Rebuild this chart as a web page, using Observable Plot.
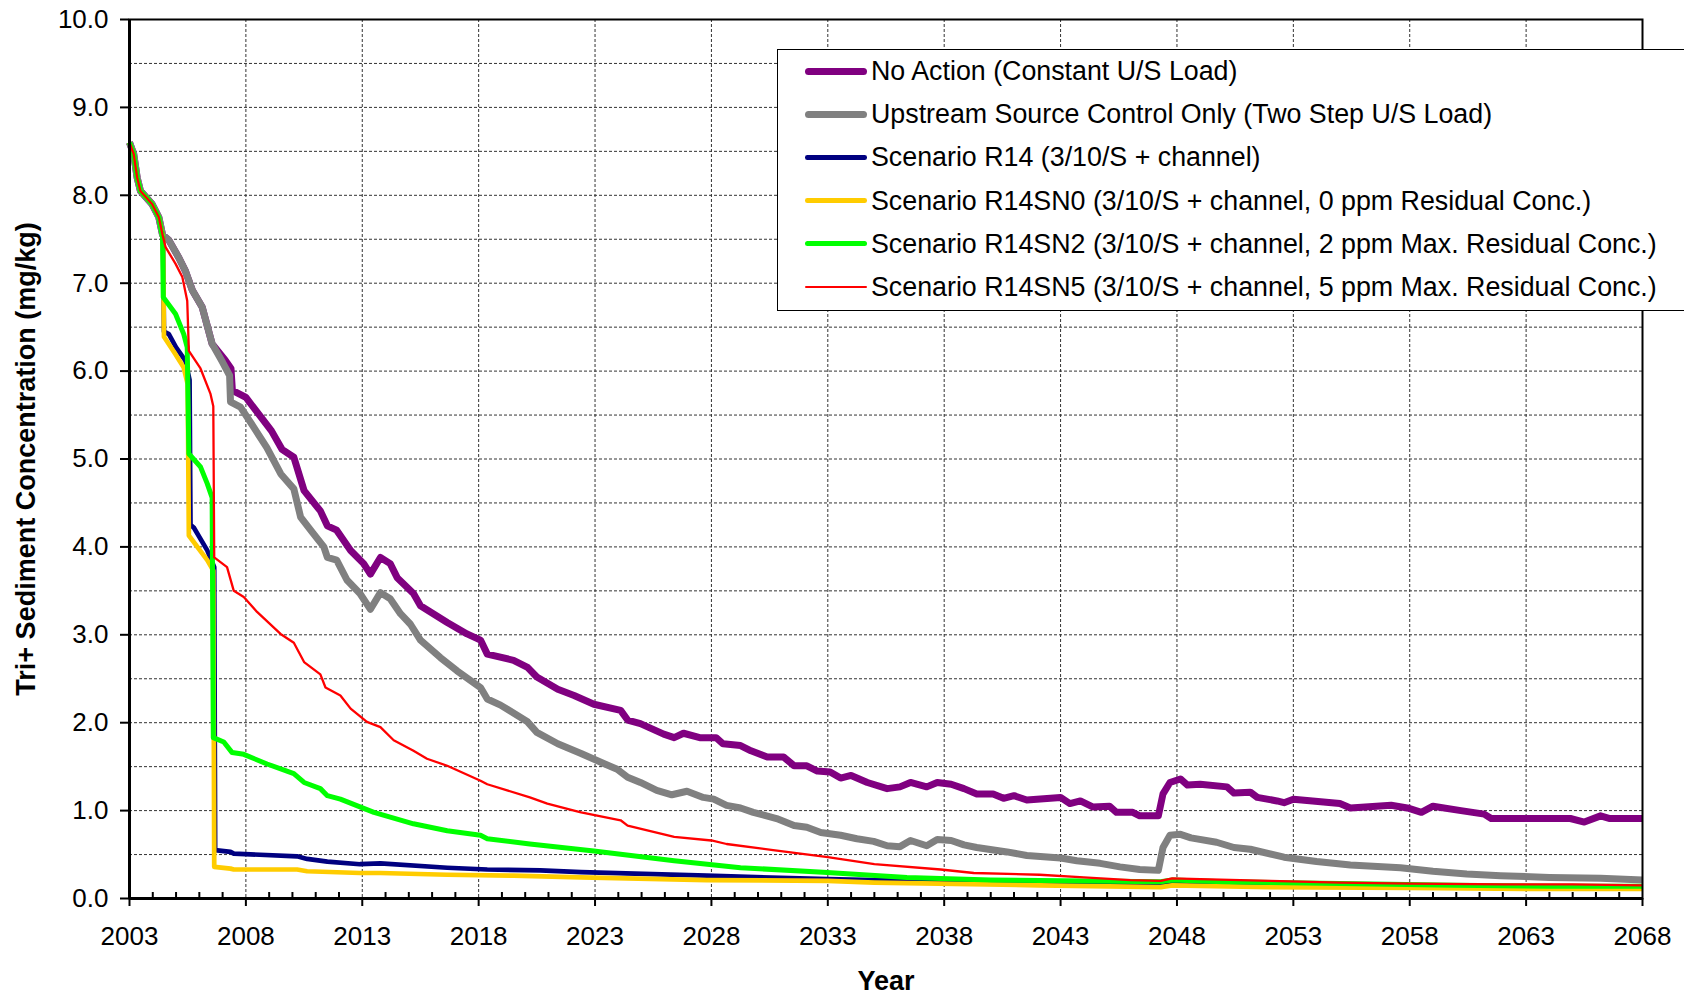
<!DOCTYPE html>
<html><head><meta charset="utf-8">
<script src="https://cdn.jsdelivr.net/npm/d3@7"></script>
<script src="https://cdn.jsdelivr.net/npm/@observablehq/plot@0.6"></script>
<style>
html,body{margin:0;padding:0;background:#fff;overflow:hidden;}
#wrap{position:relative;width:1684px;height:996px;font-family:"Liberation Sans",Arial,sans-serif;}
#legend{position:absolute;left:777px;top:49px;width:908px;height:262px;box-sizing:border-box;border:1.3px solid #000;background:#fff;}
.row{position:absolute;left:0;width:100%;height:40px;font-size:26.8px;color:#000;white-space:nowrap}
.sw{position:absolute;left:27px;width:62px}
.lab{position:absolute;left:93px;top:0;line-height:40px}
</style></head>
<body><div id="wrap"><div id="legend"></div></div>
<script>
// ---- data ----
const seriesNames = [
  "No Action (Constant U/S Load)",
  "Upstream Source Control Only (Two Step U/S Load)",
  "Scenario R14 (3/10/S + channel)",
  "Scenario R14SN0 (3/10/S + channel, 0 ppm Residual Conc.)",
  "Scenario R14SN2 (3/10/S + channel, 2 ppm Max. Residual Conc.)",
  "Scenario R14SN5 (3/10/S + channel, 5 ppm Max. Residual Conc.)"
];
const seriesColors = ["#800080", "#808080", "#000080", "#FFCC00", "#00FF00", "#FF0000"];
const seriesWidths = [7, 7, 4.7, 4.7, 5, 2.3];

const commonStart = [[2003.0,8.60],[2003.18,8.47],[2003.33,8.20],[2003.47,8.05],[2003.97,7.90],[2004.26,7.75],[2004.42,7.55]];

const noAction = [[2004.69,7.49],[2005.12,7.29],[2005.4,7.14],[2005.7,6.92],[2006.12,6.73],[2006.55,6.31],[2007.12,6.12],[2007.36,6.03],[2007.42,5.78],[2008.0,5.70],[2008.55,5.51],[2009.1,5.32],[2009.55,5.11],[2010.06,5.02],[2010.5,4.64],[2011.2,4.41],[2011.5,4.24],[2011.9,4.19],[2012.5,3.96],[2013.06,3.81],[2013.35,3.69],[2013.78,3.88],[2014.2,3.81],[2014.5,3.65],[2015.2,3.47],[2015.5,3.33],[2016.65,3.14],[2017.5,3.01],[2018.08,2.94],[2018.37,2.78],[2019.5,2.71],[2020.1,2.63],[2020.5,2.52],[2021.4,2.38],[2022.1,2.31],[2022.95,2.21],[2024.1,2.14],[2024.4,2.03],[2024.95,1.99],[2025.95,1.87],[2026.4,1.83],[2026.8,1.88],[2027.5,1.83],[2028.2,1.83],[2028.5,1.76],[2029.25,1.74],[2029.7,1.68],[2030.4,1.61],[2031.1,1.61],[2031.55,1.51],[2032.1,1.51],[2032.55,1.45],[2033.1,1.44],[2033.55,1.37],[2034.0,1.40],[2034.7,1.32],[2035.55,1.25],[2036.1,1.27],[2036.55,1.32],[2037.25,1.27],[2037.7,1.32],[2038.3,1.30],[2038.85,1.25],[2039.4,1.19],[2040.1,1.19],[2040.55,1.14],[2041.0,1.17],[2041.55,1.12],[2043.0,1.15],[2043.4,1.08],[2043.85,1.11],[2044.4,1.04],[2045.1,1.05],[2045.4,0.98],[2046.1,0.98],[2046.4,0.94],[2047.2,0.94],[2047.4,1.19],[2047.7,1.32],[2048.15,1.36],[2048.45,1.29],[2049.0,1.30],[2050.15,1.27],[2050.45,1.20],[2051.15,1.21],[2051.45,1.15],[2052.3,1.11],[2052.6,1.09],[2053.0,1.13],[2055.0,1.08],[2055.45,1.03],[2057.2,1.06],[2057.9,1.03],[2058.5,0.98],[2059.0,1.05],[2060.2,1.00],[2061.2,0.96],[2061.5,0.91],[2062.9,0.91],[2064.9,0.91],[2065.5,0.87],[2066.2,0.94],[2066.6,0.91],[2068.0,0.91]];

const sourceControl = [[2004.69,7.49],[2005.12,7.29],[2005.4,7.14],[2005.7,6.92],[2006.12,6.73],[2006.55,6.31],[2007.0,6.10],[2007.3,5.95],[2007.34,5.65],[2007.77,5.59],[2008.34,5.36],[2008.9,5.13],[2009.5,4.83],[2010.06,4.66],[2010.35,4.34],[2010.9,4.15],[2011.35,4.00],[2011.5,3.88],[2011.9,3.85],[2012.35,3.62],[2012.9,3.47],[2013.35,3.29],[2013.78,3.48],[2014.2,3.41],[2014.64,3.24],[2015.07,3.12],[2015.5,2.94],[2016.36,2.74],[2017.07,2.59],[2018.08,2.40],[2018.37,2.27],[2018.94,2.20],[2020.1,2.01],[2020.5,1.89],[2021.4,1.76],[2022.4,1.65],[2023.25,1.55],[2023.95,1.47],[2024.4,1.38],[2024.95,1.32],[2025.65,1.23],[2026.3,1.18],[2026.95,1.22],[2027.65,1.15],[2028.1,1.13],[2028.65,1.06],[2029.25,1.03],[2029.8,0.98],[2030.8,0.91],[2031.55,0.83],[2032.1,0.81],[2032.7,0.75],[2033.55,0.72],[2034.25,0.68],[2034.97,0.65],[2035.55,0.60],[2036.1,0.59],[2036.55,0.66],[2037.25,0.60],[2037.7,0.67],[2038.3,0.66],[2038.85,0.61],[2039.4,0.58],[2040.7,0.53],[2041.55,0.49],[2043.0,0.46],[2043.7,0.43],[2044.7,0.40],[2045.55,0.36],[2046.4,0.33],[2047.2,0.32],[2047.4,0.58],[2047.7,0.72],[2048.15,0.73],[2048.6,0.69],[2049.7,0.64],[2050.45,0.58],[2051.15,0.56],[2052.6,0.47],[2054.0,0.42],[2055.45,0.38],[2057.6,0.35],[2059.0,0.31],[2060.45,0.28],[2061.9,0.26],[2064.0,0.24],[2066.2,0.23],[2068.0,0.21]];

const r14 = [[2004.44,7.52],[2004.48,6.45],[2004.69,6.42],[2005.0,6.27],[2005.4,6.12],[2005.58,5.90],[2005.62,4.25],[2005.76,4.22],[2006.34,3.96],[2006.64,3.77],[2006.68,0.55],[2007.34,0.53],[2007.48,0.51],[2010.2,0.48],[2010.63,0.45],[2011.5,0.42],[2012.9,0.39],[2013.78,0.40],[2016.65,0.35],[2018.37,0.33],[2020.65,0.32],[2022.4,0.30],[2027.8,0.26],[2033.0,0.22],[2035.0,0.21],[2042.1,0.17],[2047.3,0.15],[2047.8,0.17],[2052.0,0.15],[2058.0,0.14],[2063.0,0.13],[2068.0,0.12]];

const r14sn0 = [[2004.44,7.52],[2004.48,6.39],[2004.98,6.19],[2005.33,6.04],[2005.5,5.85],[2005.55,4.13],[2006.34,3.85],[2006.6,3.73],[2006.64,0.36],[2007.34,0.34],[2007.48,0.33],[2010.2,0.33],[2010.63,0.31],[2012.9,0.29],[2013.78,0.29],[2016.65,0.27],[2019.5,0.26],[2022.4,0.24],[2027.8,0.21],[2033.0,0.20],[2035.0,0.18],[2042.1,0.15],[2047.3,0.13],[2047.8,0.15],[2052.0,0.13],[2058.0,0.12],[2063.0,0.11],[2068.0,0.11]];

const r14sn2 = [[2004.42,7.52],[2004.45,6.84],[2004.98,6.65],[2005.33,6.42],[2005.48,6.27],[2005.55,5.06],[2006.05,4.91],[2006.34,4.72],[2006.55,4.56],[2006.6,1.83],[2007.05,1.78],[2007.41,1.66],[2007.91,1.64],[2008.91,1.53],[2010.06,1.42],[2010.5,1.32],[2011.2,1.25],[2011.5,1.17],[2012.06,1.13],[2013.5,0.98],[2015.2,0.85],[2016.65,0.77],[2018.08,0.72],[2018.37,0.68],[2020.2,0.62],[2022.95,0.54],[2026.4,0.43],[2029.25,0.35],[2032.8,0.30],[2036.4,0.24],[2040.0,0.21],[2047.3,0.19],[2047.8,0.21],[2050.0,0.19],[2055.0,0.17],[2060.0,0.15],[2064.0,0.14],[2068.0,0.14]];

const r14sn5 = [[2004.55,7.41],[2004.98,7.22],[2005.27,7.07],[2005.48,6.80],[2005.55,6.23],[2006.05,6.03],[2006.48,5.74],[2006.6,5.60],[2006.64,3.88],[2007.19,3.77],[2007.48,3.50],[2007.91,3.43],[2008.48,3.26],[2009.49,3.01],[2010.06,2.91],[2010.5,2.69],[2011.2,2.55],[2011.42,2.40],[2012.06,2.31],[2012.5,2.16],[2013.2,2.01],[2013.78,1.95],[2014.35,1.80],[2015.2,1.68],[2015.78,1.59],[2016.65,1.51],[2018.08,1.34],[2018.37,1.30],[2020.2,1.15],[2020.95,1.08],[2022.1,1.00],[2022.4,0.98],[2024.1,0.89],[2024.4,0.83],[2026.4,0.70],[2028.0,0.66],[2028.65,0.62],[2030.65,0.55],[2033.0,0.47],[2035.0,0.39],[2037.85,0.33],[2039.27,0.29],[2042.1,0.27],[2044.0,0.24],[2046.0,0.21],[2047.3,0.20],[2047.8,0.23],[2049.0,0.22],[2052.0,0.20],[2055.0,0.18],[2058.0,0.17],[2062.0,0.16],[2065.0,0.16],[2068.0,0.15]];

const yTicks = [0,1,2,3,4,5,6,7,8,9,10];
const yGrid = [0.5,1,1.5,2,2.5,3,3.5,4,4.5,5,5.5,6,6.5,7,7.5,8,8.5,9,9.5];
const xTicks = [2003,2008,2013,2018,2023,2028,2033,2038,2043,2048,2053,2058,2063,2068];
const xGrid = [2008,2013,2018,2023,2028,2033,2038,2043,2048,2053,2058,2063];
const xMinor = d3.range(2004, 2068).filter(y => (y - 2003) % 5 !== 0);
const yTitle = "Tri+ Sediment Concentration (mg/kg)";
const xTitle = "Year";

// ---- build ----
const allSeries = [noAction, sourceControl, r14, r14sn0, r14sn2, r14sn5].map((s, i) => {
  const pts = commonStart.filter(p => p[0] < s[0][0]).concat(s);
  return pts.map(([year, value]) => ({series: seriesNames[i], year, value}));
});

const font = '"Liberation Sans", Arial, sans-serif';
const chart = Plot.plot({
  width: 1684, height: 996,
  marginLeft: 129, marginRight: 42, marginTop: 19, marginBottom: 98,
  style: {fontFamily: font, fontSize: "26px", color: "#000", background: "#fff", overflow: "visible"},
  x: {domain: [2003, 2068], label: null},
  y: {domain: [0, 10], label: null},
  marks: [
    Plot.gridY(yGrid, {stroke: "#333", strokeOpacity: 1, strokeWidth: 1, strokeDasharray: "3,2"}),
    Plot.gridX(xGrid, {stroke: "#333", strokeOpacity: 1, strokeWidth: 1, strokeDasharray: "3,2"}),
    ...allSeries.map((s, i) => Plot.line(s, {x: "year", y: "value", stroke: seriesColors[i], strokeWidth: seriesWidths[i], strokeLinejoin: "round", strokeLinecap: "butt"})),
    Plot.frame({stroke: "#000", strokeWidth: 2}),
    Plot.ruleX([2003], {stroke: "#000", strokeWidth: 3}),
    Plot.ruleY([0], {stroke: "#000", strokeWidth: 3}),
    Plot.axisY(yTicks, {tickSize: 9, tickPadding: 12, tickFormat: d => d.toFixed(1), fontSize: 26, strokeWidth: 2, label: null}),
    Plot.axisX(xTicks, {tickSize: 8, tickPadding: 20, tickFormat: d => String(d), fontSize: 26, strokeWidth: 2, label: null}),
    Plot.axisX(xMinor, {tickSize: -6, tickFormat: () => "", strokeWidth: 2, label: null}),
    Plot.text([yTitle], {text: d => d, frameAnchor: "left", dx: -103, rotate: -90, fontWeight: "bold", fontSize: 27, textAnchor: "middle", lineAnchor: "middle"}),
    Plot.text([xTitle], {text: d => d, frameAnchor: "bottom", dy: 72, fontWeight: "bold", fontSize: 27, textAnchor: "middle", lineAnchor: "top"})
  ]
});
document.getElementById("wrap").insertBefore(chart, document.getElementById("legend"));

// ---- legend ----
const legend = document.getElementById("legend");
seriesNames.forEach((name, i) => {
  const row = document.createElement("div");
  row.className = "row";
  row.style.top = (21 + i * 43.2 - 20) + "px";
  const sw = document.createElement("div");
  sw.className = "sw";
  const w = seriesWidths[i];
  sw.style.height = w + "px";
  sw.style.top = (20 - w / 2) + "px";
  sw.style.background = seriesColors[i];
  sw.style.borderRadius = (w / 2) + "px";
  const lab = document.createElement("div");
  lab.className = "lab";
  lab.textContent = name;
  row.appendChild(sw);
  row.appendChild(lab);
  legend.appendChild(row);
});
</script>
</body></html>
